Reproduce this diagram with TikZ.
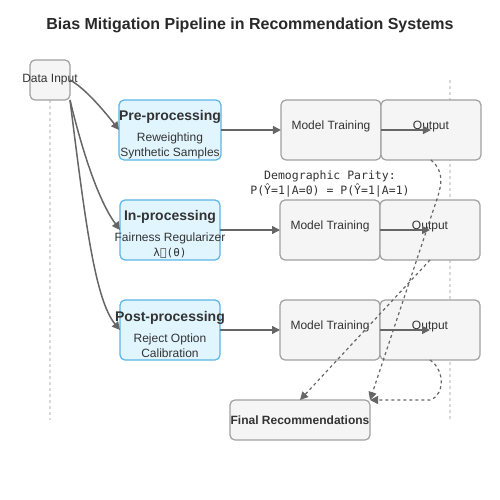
\documentclass[tikz,border=0pt]{standalone}
\usepackage{fontspec}
\setmainfont{Liberation Sans}
\newfontfamily\monofont{DejaVu Sans Mono}
\usetikzlibrary{arrows.meta, positioning}
\definecolor{boxgray}{HTML}{F5F5F5}
\definecolor{edgegray}{HTML}{A0A0A0}
\definecolor{stageblue}{HTML}{E1F5FE}
\definecolor{stageedge}{HTML}{5AB4E5}
\definecolor{arrowgray}{HTML}{666666}
\definecolor{textgray}{HTML}{333333}
\tikzstyle{block} = [rectangle, rounded corners=5pt, minimum width=100pt, minimum height=60pt, inner sep=0pt, outer sep=0pt, draw=edgegray, fill=boxgray, line width=1.2pt, text=textgray, font=\fontsize{12}{15}\selectfont]
\tikzstyle{trainbox} = [block, text depth=10pt]
\tikzstyle{stage} = [block, draw=stageedge, fill=stageblue, align=center]
\tikzstyle{arrow} = [line width=1.5pt, draw=arrowgray, -{Triangle[length=8pt,width=8pt]}]
\tikzstyle{feedback} = [arrow, dashed, line width=1.2pt]
\tikzstyle{guide} = [dashed, draw=gray!30, line width=1.5pt]

\begin{document}
\begin{tikzpicture}[x=1pt, y=-1pt]
    \useasboundingbox (0,0) rectangle (500,500);
    % guide lines
    \draw [guide] (50,100) -- (50,420);
    \draw [guide] (450,80) -- (450,420);

    \node (title) at (250,25) {\fontsize{16}{19}\selectfont\bfseries\color{textgray!80!black}Bias Mitigation Pipeline in Recommendation Systems};
    \node (data) [block, minimum width=40pt, minimum height=40pt] at (50,80) {\makebox[0pt]{Data Input}};

    \node (pre) [stage] at (170,130) {\rule{0pt}{19pt}{\fontsize{14}{17}\selectfont\bfseries Pre-processing}\\[6pt]Reweighting\\Synthetic Samples};
    \node (inproc) [stage, below=40pt of pre] {\rule{0pt}{19pt}{\fontsize{14}{17}\selectfont\bfseries In-processing}\\[6pt]\makebox[0pt]{Fairness Regularizer}\\{\monofont\fontsize{11}{15}\selectfont λℛ(θ)}};
    \node (post) [stage, below=40pt of inproc] {\rule{0pt}{19pt}\makebox[0pt]{\fontsize{14}{17}\selectfont\bfseries Post-processing}\\[6pt]Reject Option\\Calibration};

    \node (train1) [trainbox, right=60pt of pre] {Model Training};
    \node (out1) [trainbox, right=0pt of train1] {Output};
    \node (train2) [trainbox, right=60pt of inproc] {Model Training};
    \node (out2) [trainbox, right=0pt of train2] {Output};
    \node (train3) [trainbox, right=60pt of post] {Model Training};
    \node (out3) [trainbox, right=0pt of train3] {Output};

    \node (parity) [align=center, text=textgray, font=\monofont\fontsize{11.5}{15}\selectfont] at (330,184) {Demographic Parity:\\P(Ŷ=1|A=0) = P(Ŷ=1|A=1)};
    \node (final) [block, minimum width=140pt, minimum height=40pt, font=\fontsize{12}{15}\selectfont\bfseries] at (300,420) {Final Recommendations};

    \draw [arrow] (data.east) .. controls (85,88) and (105,112) .. (pre.west);
    \draw [arrow] (data.south east) .. controls (82,150) and (98,200) .. (inproc.west);
    \draw [arrow] (data.south east) .. controls (85,220) and (95,300) .. (post.west);

    \draw [arrow] (pre) -- (train1);
    \draw [arrow] (train1.east) -- (out1.center);
    \draw [arrow] (inproc) -- (train2);
    \draw [arrow] (train2.east) -- (out2.center);
    \draw [arrow] (post) -- (train3);
    \draw [arrow] (train3.east) -- (out3.center);

    \draw [feedback] (out1.south) .. controls (445,172) and (442,185) .. (435,205) -- (final.north east);
    \draw [feedback] (out2.south) -- (final.north);
    \draw [feedback] (out3.south) .. controls (445,370) and (445,395) .. (430,400) -- (final.north east);
\end{tikzpicture}
\end{document}
